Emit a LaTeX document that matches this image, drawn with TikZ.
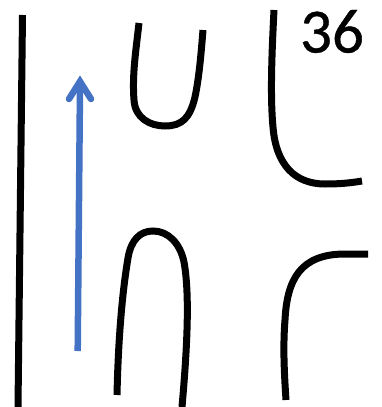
\documentclass[tikz,border=0pt]{standalone}
\usepackage{fontspec}
\setmainfont{Carlito}
\newfontfamily\numfont[FakeBold=0.6]{Carlito}
\definecolor{bluearrow}{HTML}{4472C4}
\tikzset{curve/.style={draw=black,line width=7pt},
  bluestroke/.style={draw=bluearrow,line width=6.5pt}}
\begin{document}
\begin{tikzpicture}[x=1pt,y=-1pt]
\useasboundingbox (0,0) rectangle (382,407);
\fill[white] (0,0) rectangle (382,407);
\draw[curve] (22.5,15) -- (18,407);
\draw[bluestroke] (77.7,351) -- (80,85);
\draw[bluestroke,line cap=round,line join=miter] (69,99) -- (80,81.5) -- (91,99);
\draw[curve] (139,23) .. controls (136,50) and (132,75) .. (134,100) .. controls (135,118) and (150,126) .. (165,126) .. controls (182,126) and (190,118) .. (195,97) .. controls (199,78) and (201,55) .. (203,30);
\draw[curve] (274,10) .. controls (272,50) and (270,95) .. (273,127) .. controls (276,165) and (295,184) .. (325,184) .. controls (340,184) and (350,183) .. (362,181);
\draw[curve] (117,395) .. controls (118,350) and (121,300) .. (128,258) .. controls (131,240) and (140,231) .. (153,231) .. controls (168,231) and (180,243) .. (184,262) .. controls (190,295) and (187,350) .. (182,407);
\draw[curve] (286,400) .. controls (284,370) and (283,345) .. (285,320) .. controls (287,280) and (300,254) .. (345,254) -- (368,254);
\node[inner sep=0pt,anchor=base,font=\numfont\fontsize{63}{63}\selectfont,text=black] (num) at (332,52.5) {36};
\end{tikzpicture}
\end{document}
